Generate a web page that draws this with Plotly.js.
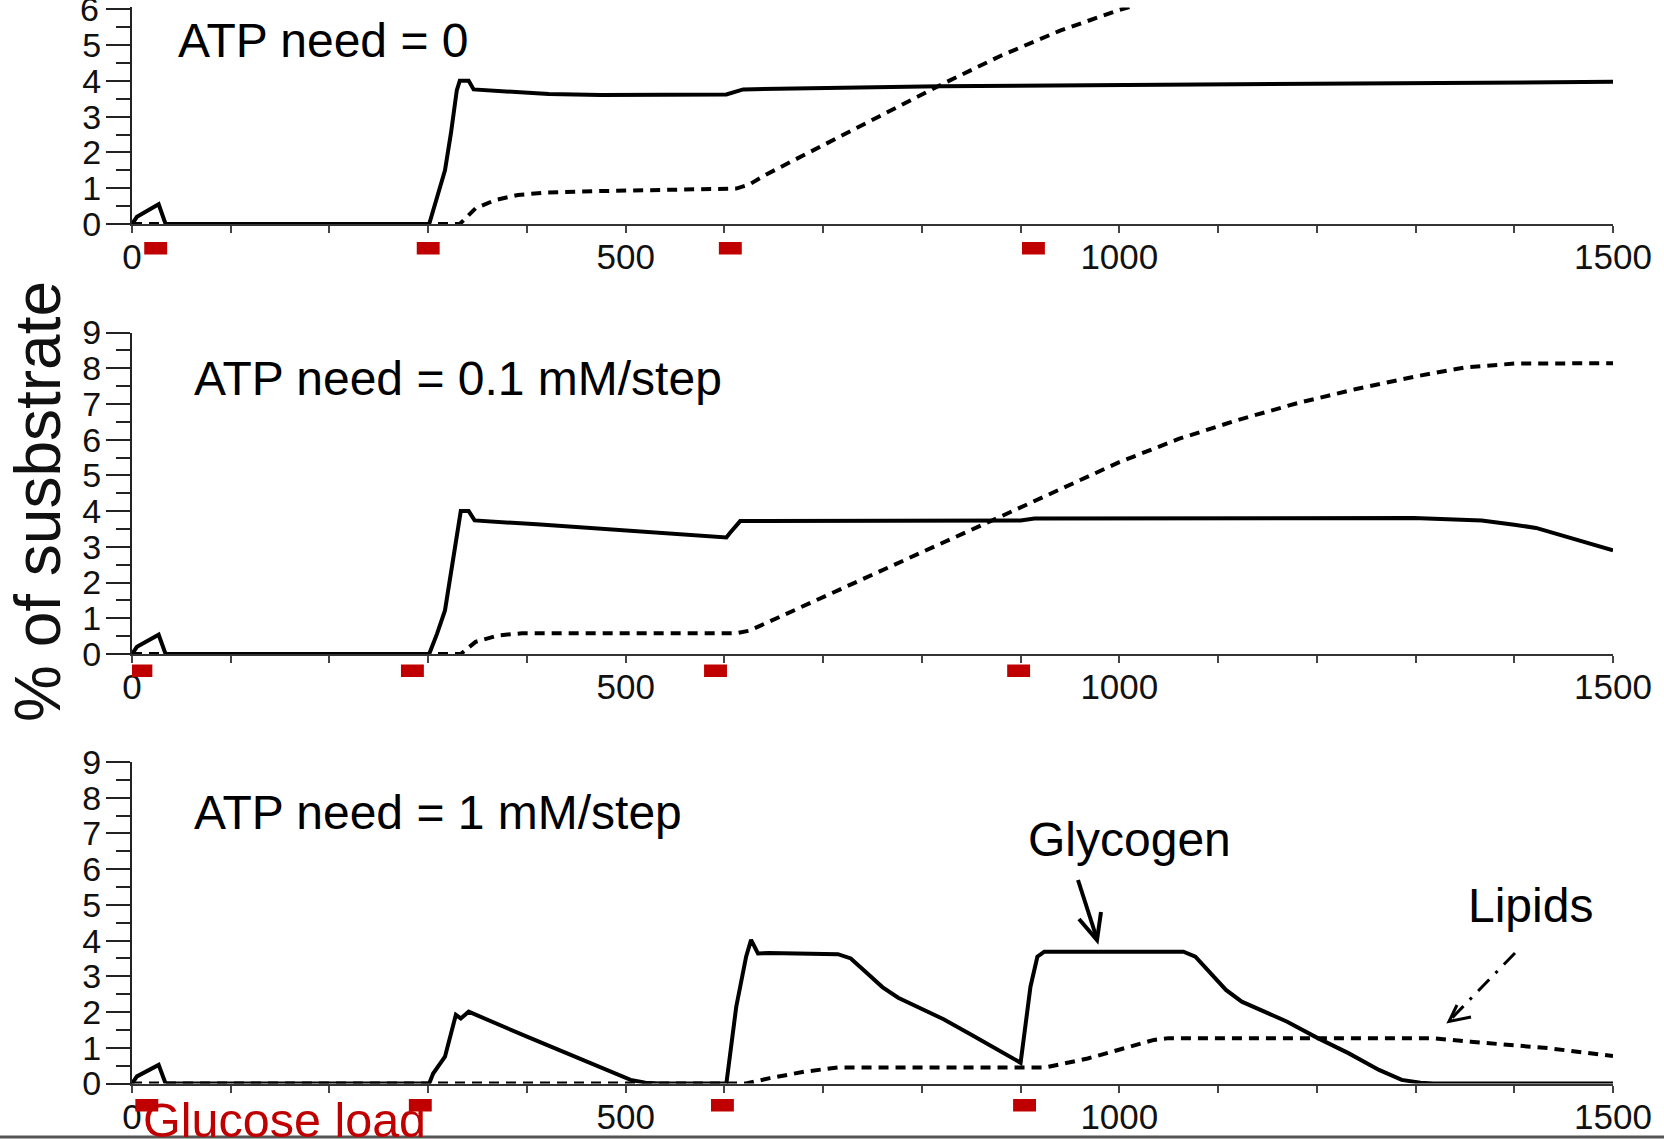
<!DOCTYPE html>
<html><head><meta charset="utf-8">
<script src="https://cdn.plot.ly/plotly-3.0.1.min.js"></script>
<style>html,body{margin:0;padding:0;background:#fff}#chart{width:1664px;height:1139px}</style>
</head><body><div id="chart"></div>
<script>
// ---------- DATA ----------
// Panel 1: ATP need = 0
const p1GlyT = [0, 5, 27, 34, 301, 309, 317, 323, 329, 332, 341, 346, 422, 475, 602, 619, 818, 1500];
const p1GlyV = [0, 0.2, 0.55, 0, 0, 0.76, 1.5, 2.53, 3.74, 4.0, 4.0, 3.76, 3.63, 3.6, 3.62, 3.76, 3.85, 3.97];
const p1LipT = [0, 332, 348, 368, 391, 418, 475, 612, 625, 640, 700, 760, 820, 880, 940, 1000, 1015];
const p1LipV = [0, 0, 0.44, 0.67, 0.81, 0.875, 0.92, 0.99, 1.1, 1.35, 2.2, 3.05, 3.9, 4.7, 5.4, 5.98, 6.1];
// Panel 2: ATP need = 0.1 mM/step
const p2GlyT = [0, 5, 27, 34, 301, 309, 317, 324, 331, 333, 341, 347, 410, 475, 602, 606, 616, 900, 914, 1298, 1340, 1367, 1400, 1422, 1500];
const p2GlyV = [0, 0.2, 0.54, 0, 0, 0.57, 1.22, 2.44, 3.74, 4.0, 4.0, 3.74, 3.63, 3.5, 3.26, 3.4, 3.72, 3.74, 3.79, 3.81, 3.78, 3.74, 3.62, 3.53, 2.9];
const p2LipT = [0, 333, 348, 371, 395, 612, 625, 640, 700, 760, 820, 880, 940, 1000, 1060, 1120, 1180, 1240, 1300, 1350, 1400, 1500];
const p2LipV = [0, 0, 0.34, 0.52, 0.58, 0.58, 0.65, 0.84, 1.6, 2.35, 3.1, 3.85, 4.62, 5.37, 6.02, 6.55, 7.02, 7.42, 7.77, 8.02, 8.13, 8.14];
// Panel 3: ATP need = 1 mM/step
const p3GlyT = [0, 5, 27, 34, 301, 305, 317, 323, 328, 333, 341, 400, 475, 490, 505, 520, 535, 602, 612, 622, 627, 634, 645, 715, 728, 744, 760, 776, 795, 822, 851, 875, 900, 910, 917, 924, 1065, 1077, 1093, 1108, 1124, 1143, 1170, 1201, 1232, 1263, 1286, 1305, 1318, 1500];
const p3GlyV = [0, 0.2, 0.52, 0, 0, 0.28, 0.75, 1.4, 1.92, 1.82, 2.01, 1.31, 0.43, 0.25, 0.1, 0.02, 0, 0, 2.15, 3.55, 4.02, 3.64, 3.65, 3.62, 3.5, 3.1, 2.7, 2.4, 2.15, 1.8, 1.35, 0.98, 0.58, 2.71, 3.55, 3.69, 3.69, 3.55, 3.08, 2.62, 2.29, 2.06, 1.73, 1.27, 0.85, 0.38, 0.1, 0.02, 0, 0];
const p3LipT = [0, 622, 646, 681, 715, 925, 968, 1007, 1035, 1050, 1317, 1356, 1395, 1434, 1500];
const p3LipV = [0, 0, 0.15, 0.33, 0.45, 0.45, 0.7, 0.99, 1.22, 1.27, 1.27, 1.17, 1.08, 0.99, 0.77];
// Glucose load times (red marks under each axis)
const load1T = [24, 300, 606, 913];
const load2T = [9, 284, 591, 898];
const load3T = [15, 292, 598, 904];
const yTickVals = [0, 1, 2, 3, 4, 5, 6, 7, 8, 9];
const panelTitles = ['ATP need = 0', 'ATP need = 0.1 mM/step', 'ATP need = 1 mM/step'];

// ---------- LAYOUT ----------
const W = 1664, H = 1139;
const fx = p => p / W;
const fy = p => 1 - p / H;
const RED = '#c00000';
const FONT = 'Liberation Sans, Arial, sans-serif';
const MARK_HALF = 11.6; // half width of a glucose mark, in x units (style)

function gly(t, v, ax) {
  return {x: t, y: v, xaxis: 'x' + ax, yaxis: 'y' + ax, type: 'scatter', mode: 'lines',
    line: {color: '#000', width: 4}, hoverinfo: 'skip', showlegend: false};
}
function lip(t, v, ax) {
  return {x: t, y: v, xaxis: 'x' + ax, yaxis: 'y' + ax, type: 'scatter', mode: 'lines',
    line: {color: '#000', width: 4, dash: '10px,7px'}, hoverinfo: 'skip', showlegend: false};
}
function loadShapes(t, xr, yTopPx, yBotPx) {
  return t.map(v => ({type: 'rect', xref: xr, yref: 'paper', x0: v - MARK_HALF, x1: v + MARK_HALF,
    y0: fy(yBotPx), y1: fy(yTopPx), fillcolor: RED, line: {width: 0}, layer: 'above'}));
}

const data = [
  lip(p1LipT, p1LipV, ''), gly(p1GlyT, p1GlyV, ''),
  lip(p2LipT, p2LipV, '2'), gly(p2GlyT, p2GlyV, '2'),
  lip(p3LipT, p3LipV, '3'), gly(p3GlyT, p3GlyV, '3')
];

const xDom = [fx(132), fx(1613)];
function xax(anchor) {
  return {domain: xDom, anchor: anchor, range: [0, 1500], showgrid: false, zeroline: false,
    showline: true, linecolor: '#333', linewidth: 2,
    tickmode: 'linear', tick0: 0, dtick: 500, ticks: 'outside', ticklen: 7, tickwidth: 2, tickcolor: '#444',
    minor: {dtick: 100, ticks: 'outside', ticklen: 7, tickwidth: 2, tickcolor: '#444'},
    tickfont: {family: FONT, size: 35, color: '#111'}, ticklabelstandoff: -6, fixedrange: true};
}
function yax(anchor, dom, range) {
  return {domain: dom, anchor: anchor, range: range, showgrid: false, zeroline: false,
    showline: true, linecolor: '#222', linewidth: 2,
    tickmode: 'array', tickvals: yTickVals, ticks: 'outside', ticklen: 24, tickwidth: 2, tickcolor: '#222',
    minor: {dtick: 0.5, ticks: 'outside', ticklen: 14, tickwidth: 2, tickcolor: '#222'},
    tickfont: {family: FONT, size: 34, color: '#111'}, ticklabelstandoff: -2, fixedrange: true};
}

function txt(text, x, y, size, color, extra) {
  return Object.assign({text: text, xref: 'paper', yref: 'paper', x: fx(x), y: fy(y),
    xanchor: 'left', yanchor: 'middle', showarrow: false,
    font: {family: FONT, size: size, color: color || '#000'}}, extra || {});
}

const layout = {
  width: W, height: H, margin: {l: 0, r: 0, t: 0, b: 0, pad: 0},
  paper_bgcolor: '#fff', plot_bgcolor: 'rgba(0,0,0,0)', showlegend: false,
  xaxis: xax('y'), yaxis: yax('x', [fy(224), fy(7.4)], [0, 6.05]),
  xaxis2: xax('y2'), yaxis2: yax('x2', [fy(654), fy(332.5)], [0, 9]),
  xaxis3: xax('y3'), yaxis3: yax('x3', [fy(1083.5), fy(762)], [0, 9]),
  annotations: [
    // top tick label of panel 1, cut by the picture's top edge as in the original
    {text: String(yTickVals[6]), xref: 'paper', yref: 'y', x: fx(101), y: yTickVals[6], xanchor: 'right', yanchor: 'middle',
      showarrow: false, font: {family: FONT, size: 34, color: '#111'}},
    txt(panelTitles[0], 176, 40, 48),
    txt(panelTitles[1], 192, 379, 48),
    txt(panelTitles[2], 192, 812, 48),
    txt('Glycogen', 1026, 839, 48),
    txt('Lipids', 1466, 905, 48),
    txt('Glucose load', 141, 1120, 48.5, RED),
    txt('% of susbstrate', 38, 502, 64, '#111', {xanchor: 'center', textangle: -90})
  ],
  shapes: [].concat(
    loadShapes(load1T, 'x', 242, 254.5),
    loadShapes(load2T, 'x2', 664.5, 677),
    loadShapes(load3T, 'x3', 1099, 1111.5),
    [
    {type: 'line', xref: 'paper', yref: 'paper', x0: fx(1078), y0: fy(880), x1: fx(1097), y1: fy(939),
      line: {color: '#000', width: 4}},
    {type: 'path', xref: 'paper', yref: 'paper',
      path: 'M' + fx(1079) + ',' + fy(919) + ' L' + fx(1097) + ',' + fy(940) + ' L' + fx(1101) + ',' + fy(912),
      line: {color: '#000', width: 4}},
    {type: 'line', xref: 'paper', yref: 'paper', x0: fx(1515), y0: fy(953), x1: fx(1451), y1: fy(1019),
      line: {color: '#000', width: 3, dash: '16px,9px,3px,9px'}},
    {type: 'path', xref: 'paper', yref: 'paper',
      path: 'M' + fx(1457) + ',' + fy(1005) + ' L' + fx(1449) + ',' + fy(1021.5) + ' L' + fx(1471) + ',' + fy(1017),
      line: {color: '#000', width: 3}},
    {type: 'line', xref: 'paper', yref: 'paper', x0: 0, y0: fy(1137), x1: 1, y1: fy(1137),
      line: {color: '#555', width: 3}}
  ])
};

Plotly.newPlot('chart', data, layout, {staticPlot: true, displayModeBar: false});
</script>
</body></html>
